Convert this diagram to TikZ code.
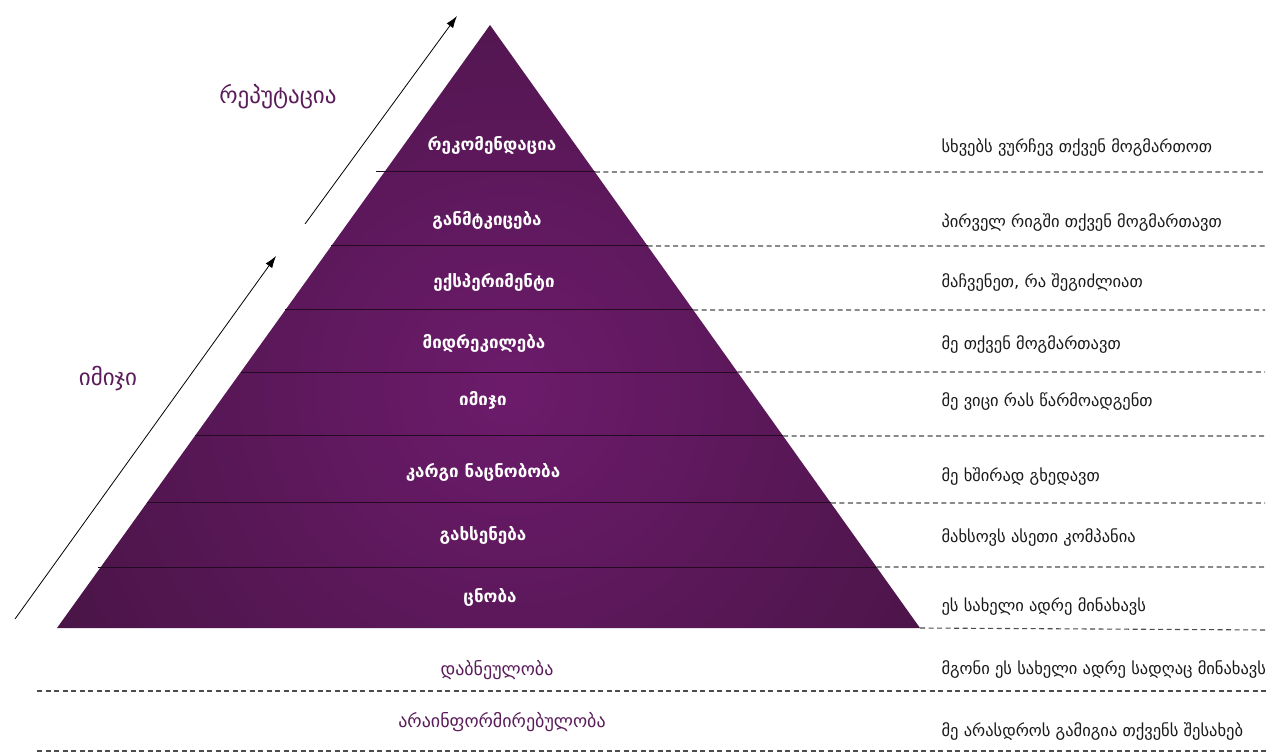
\documentclass[tikz,border=0pt]{standalone}
\usepackage{fontspec}
\newfontfamily\geofont{DejaVu Sans}
\usetikzlibrary{calc,arrows.meta}
\definecolor{pyrdark}{HTML}{42133F}
\definecolor{pyrlight}{HTML}{6C1B6B}
\definecolor{labpurple}{HTML}{5A1C5A}
\tikzset{
  level/.style={font=\geofont\fontsize{17}{20}\selectfont\bfseries, text=white},
  note/.style={font=\geofont\fontsize{16.5}{20}\selectfont, text=black!90, anchor=west},
  side/.style={font=\geofont\fontsize{23}{27}\selectfont, text=labpurple},
  base/.style={font=\geofont\fontsize{18}{22}\selectfont, text=labpurple},
  sep/.style={dash pattern=on 5pt off 3.5pt, black!70, line width=1.1pt},
}
\begin{document}
\begin{tikzpicture}[x=1pt,y=-1pt]
\useasboundingbox (0,0) rectangle (1280,754);
\coordinate (apex) at (490,25);
\coordinate (bl) at (57,628);
\coordinate (br) at (920,628);
% pyramid
\begin{scope}
\clip (apex) -- (br) -- (bl) -- cycle;
\shade[inner color=pyrlight, outer color=pyrdark] (510,390) circle[radius=620pt];
\end{scope}
% level lines
\foreach \y/\ext in {172/8,246/0,310/0,372/0,436/0,503/0,567/3}{
\pgfmathsetmacro\t{(\y-25)/603}
\draw[pyrdark!55!black, line width=1pt] ($(apex)!\t!(bl) + (-\ext,0)$) -- ($(apex)!\t!(br)$);
\draw[sep] ($(apex)!\t!(br)$) -- (1265,\y);
}
\draw[sep] (br) -- (1268,630);
\draw[sep] (37,691) -- (1268,691);
\draw[sep] (37,751) -- (1268,751);
% arrows
\coordinate (imgtail) at (15,619);
\coordinate (imghead) at (276,256);
\coordinate (reptail) at (305,224);
\coordinate (rephead) at (457,16);
\draw[-{Latex[length=12pt,width=8pt]}, line width=0.8pt] (imgtail) -- (imghead);
\draw[-{Latex[length=12pt,width=8pt]}, line width=0.8pt] (reptail) -- (rephead);
\node[side] (rep) at (278,97) {რეპუტაცია};
\node[side] (img) at (108,379) {იმიჯი};
% levels
\node[level] (l1) at (492,145) {რეკომენდაცია};
\node[level] (l2) at (487,220) {განმტკიცება};
\node[level] (l3) at (494,282) {ექსპერიმენტი};
\node[level] (l4) at (484,343) {მიდრეკილება};
\node[level] (l5) at (483,400) {იმიჯი};
\node[level] (l6) at (483,472) {კარგი ნაცნობობა};
\node[level] (l7) at (483,535) {გახსენება};
\node[level] (l8) at (490,597) {ცნობა};
\node[base] (l9) at (497,670) {დაბნეულობა};
\node[base] (l10) at (502,722) {არაინფორმირებულობა};
% notes
\node[note] (n1) at (938,148) {სხვებს ვურჩევ თქვენ მოგმართოთ};
\node[note] (n2) at (938,223) {პირველ რიგში თქვენ მოგმართავთ};
\node[note] (n3) at (938,283) {მაჩვენეთ, რა შეგიძლიათ};
\node[note] (n4) at (938,345) {მე თქვენ მოგმართავთ};
\node[note] (n5) at (938,402) {მე ვიცი რას წარმოადგენთ};
\node[note] (n6) at (938,477) {მე ხშირად გხედავთ};
\node[note] (n7) at (938,538) {მახსოვს ასეთი კომპანია};
\node[note] (n8) at (938,607) {ეს სახელი ადრე მინახავს};
\node[note] (n9) at (938,670) {მგონი ეს სახელი ადრე სადღაც მინახავს};
\node[note] (n10) at (938,732) {მე არასდროს გამიგია თქვენს შესახებ};
\end{tikzpicture}
\end{document}
